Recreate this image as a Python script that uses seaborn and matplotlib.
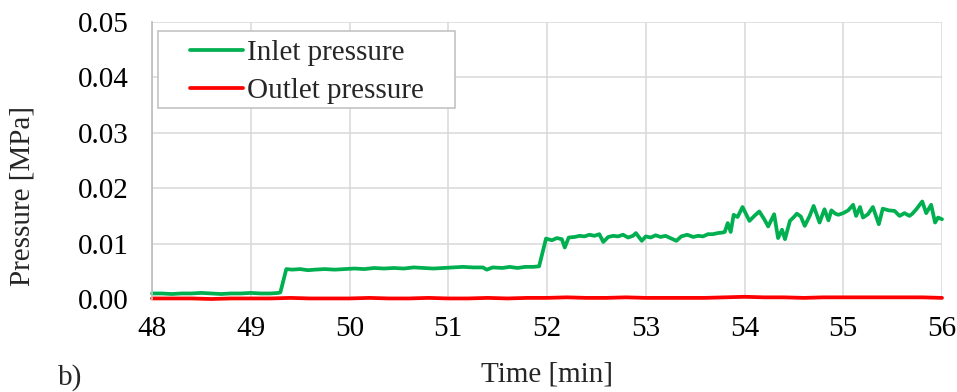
import numpy as np
import pandas as pd
import matplotlib
matplotlib.use("Agg")
import matplotlib.pyplot as plt
from matplotlib.patches import Rectangle
from matplotlib.lines import Line2D
import seaborn as sns

# Inlet pressure record [min, MPa]
inlet_time = [
    48.00, 48.10, 48.20, 48.30, 48.40, 48.50, 48.60, 48.70, 48.80, 48.90,
    49.00, 49.10, 49.20, 49.28, 49.30, 49.36, 49.42, 49.50, 49.58, 49.65,
    49.75, 49.85, 49.95, 50.05, 50.15, 50.25, 50.35, 50.45, 50.55, 50.65,
    50.75, 50.85, 50.95, 51.05, 51.15, 51.25, 51.35, 51.39, 51.45, 51.55,
    51.62, 51.70, 51.78, 51.86, 51.92, 51.99, 52.05, 52.10, 52.15, 52.18,
    52.22, 52.28, 52.33, 52.38, 52.43, 52.48, 52.53, 52.57, 52.62, 52.67,
    52.72, 52.77, 52.82, 52.87, 52.90, 52.96, 53.00, 53.05, 53.10, 53.15,
    53.20, 53.25, 53.31, 53.36, 53.42, 53.48, 53.53, 53.58, 53.63, 53.68,
    53.73, 53.78, 53.80, 53.83, 53.86, 53.89, 53.93, 53.98, 54.05, 54.10,
    54.15, 54.20, 54.24, 54.30, 54.34, 54.38, 54.41, 54.46, 54.50, 54.53,
    54.57, 54.61, 54.66, 54.70, 54.76, 54.81, 54.85, 54.88, 54.92, 54.95,
    55.00, 55.05, 55.10, 55.13, 55.17, 55.20, 55.25, 55.30, 55.36, 55.40,
    55.46, 55.52, 55.57, 55.62, 55.67, 55.70, 55.74, 55.80, 55.84, 55.89,
    55.93, 55.96, 56.00,
]
inlet_pressure = [
    0.0010, 0.0010, 0.0009, 0.0010, 0.0010, 0.0011, 0.0010, 0.0009, 0.0010, 0.0010,
    0.0011, 0.0010, 0.0010, 0.0011, 0.0012, 0.0054, 0.0053, 0.0054, 0.0052, 0.0053,
    0.0054, 0.0053, 0.0054, 0.0055, 0.0054, 0.0056, 0.0055, 0.0056, 0.0055, 0.0057,
    0.0056, 0.0055, 0.0056, 0.0057, 0.0058, 0.0057, 0.0057, 0.0053, 0.0057, 0.0056,
    0.0058, 0.0056, 0.0058, 0.0058, 0.0059, 0.0109, 0.0106, 0.0110, 0.0108, 0.0093,
    0.0111, 0.0112, 0.0114, 0.0113, 0.0116, 0.0114, 0.0117, 0.0103, 0.0112, 0.0114,
    0.0113, 0.0116, 0.0111, 0.0114, 0.0119, 0.0105, 0.0113, 0.0111, 0.0115, 0.0112,
    0.0114, 0.0110, 0.0105, 0.0113, 0.0116, 0.0112, 0.0114, 0.0113, 0.0117, 0.0117,
    0.0119, 0.0120, 0.0121, 0.0137, 0.0121, 0.0152, 0.0148, 0.0166, 0.0141, 0.0150,
    0.0158, 0.0144, 0.0131, 0.0153, 0.0110, 0.0125, 0.0108, 0.0141, 0.0148, 0.0154,
    0.0149, 0.0132, 0.0150, 0.0168, 0.0138, 0.0162, 0.0142, 0.0160, 0.0154, 0.0152,
    0.0155, 0.0160, 0.0170, 0.0150, 0.0166, 0.0147, 0.0153, 0.0166, 0.0135, 0.0163,
    0.0160, 0.0159, 0.0150, 0.0155, 0.0150, 0.0154, 0.0162, 0.0176, 0.0155, 0.0170,
    0.0138, 0.0147, 0.0144,
]

# Outlet pressure record [min, MPa]
outlet_time = [
    48.0, 48.2, 48.4, 48.6, 48.8, 49.0, 49.2, 49.4, 49.6, 49.8,
    50.0, 50.2, 50.4, 50.6, 50.8, 51.0, 51.2, 51.4, 51.6, 51.8,
    52.0, 52.2, 52.4, 52.6, 52.8, 53.0, 53.2, 53.4, 53.6, 53.8,
    54.0, 54.2, 54.4, 54.6, 54.8, 55.0, 55.2, 55.4, 55.6, 55.8,
    56.0,
]
outlet_pressure = [
    0.0001, 0.0001, 0.0001, 0.0000, 0.0001, 0.0001, 0.0001, 0.0002, 0.0001, 0.0001,
    0.0001, 0.0002, 0.0001, 0.0001, 0.0002, 0.0001, 0.0001, 0.0002, 0.0001, 0.0002,
    0.0002, 0.0003, 0.0002, 0.0002, 0.0003, 0.0002, 0.0002, 0.0002, 0.0002, 0.0003,
    0.0004, 0.0003, 0.0003, 0.0002, 0.0003, 0.0003, 0.0003, 0.0003, 0.0003, 0.0003,
    0.0002,
]

x_ticks = [48, 49, 50, 51, 52, 53, 54, 55, 56]
y_ticks = [0.00, 0.01, 0.02, 0.03, 0.04, 0.05]
series_names = ["Inlet pressure", "Outlet pressure"]
series_colors = {"Inlet pressure": "#00B050", "Outlet pressure": "#FF0000"}

df = pd.concat([
    pd.DataFrame({"time": inlet_time, "pressure": inlet_pressure, "series": series_names[0]}),
    pd.DataFrame({"time": outlet_time, "pressure": outlet_pressure, "series": series_names[1]}),
], ignore_index=True)

sns.set_theme(style="white")
plt.rcParams["font.family"] = ["Liberation Serif", "DejaVu Serif"]
FS = 21

W, H = 957, 392
fig = plt.figure(figsize=(W / 100, H / 100), dpi=100)
ax = fig.add_axes([152 / W, 1 - 299 / H, 790 / W, 277 / H])

sns.lineplot(data=df, x="time", y="pressure", hue="series", palette=series_colors,
             hue_order=series_names, linewidth=2.7, ax=ax, legend=False,
             estimator=None, sort=True)
for ln in ax.get_lines():
    ln.set_clip_on(False)
    ln.set_solid_joinstyle("round")
    ln.set_solid_capstyle("round")

ax.set_xlim(48, 56)
ax.set_ylim(0, 0.05)
ax.set_xticks(x_ticks)
ax.set_xticklabels([str(t) for t in x_ticks])
ax.set_yticks(y_ticks)
ax.set_yticklabels([f"{v:.2f}" for v in y_ticks])
ax.tick_params(axis="both", length=0, labelsize=FS, colors="black")
ax.tick_params(axis="y", pad=17)
ax.tick_params(axis="x", pad=12)

ax.grid(True, color="#D9D9D9", linewidth=1.1)
ax.set_axisbelow(True)
for side in ["top", "right", "bottom"]:
    ax.spines[side].set_visible(False)
ax.spines["left"].set_color("#BFBFBF")
ax.spines["left"].set_linewidth(1.3)

ax.set_xlabel("Time [min]", fontsize=FS)
ax.set_ylabel("Pressure [MPa]", fontsize=FS)
ax.xaxis.set_label_coords(0.5, -(374 - 299) / 277)
ax.xaxis.label.set_va("center")
ax.yaxis.set_label_coords((23 - 152) / 790, 1 - (196 - 22) / 277)
ax.yaxis.label.set_va("center")

# Legend box and entries
fig.patches.append(Rectangle((158 / W, 1 - 108 / H), (455 - 158) / W, (108 - 31) / H,
                             transform=fig.transFigure, facecolor="white",
                             edgecolor="#BFBFBF", linewidth=1.1, zorder=5))
handles = [Line2D([], [], color=series_colors[n], linewidth=2.7) for n in series_names]
leg = fig.legend(handles, series_names, loc="upper left",
                 bbox_to_anchor=(190 / W, 1 - 40 / H), bbox_transform=fig.transFigure,
                 frameon=False, fontsize=FS, handlelength=1.8, handletextpad=0.15,
                 borderpad=0, borderaxespad=0, labelspacing=0.38)
leg.set_zorder(6)

fig.text(58 / W, 1 - 385 / H, "b)", fontsize=FS, va="baseline", ha="left")

fig.savefig("out.png", dpi=100)
